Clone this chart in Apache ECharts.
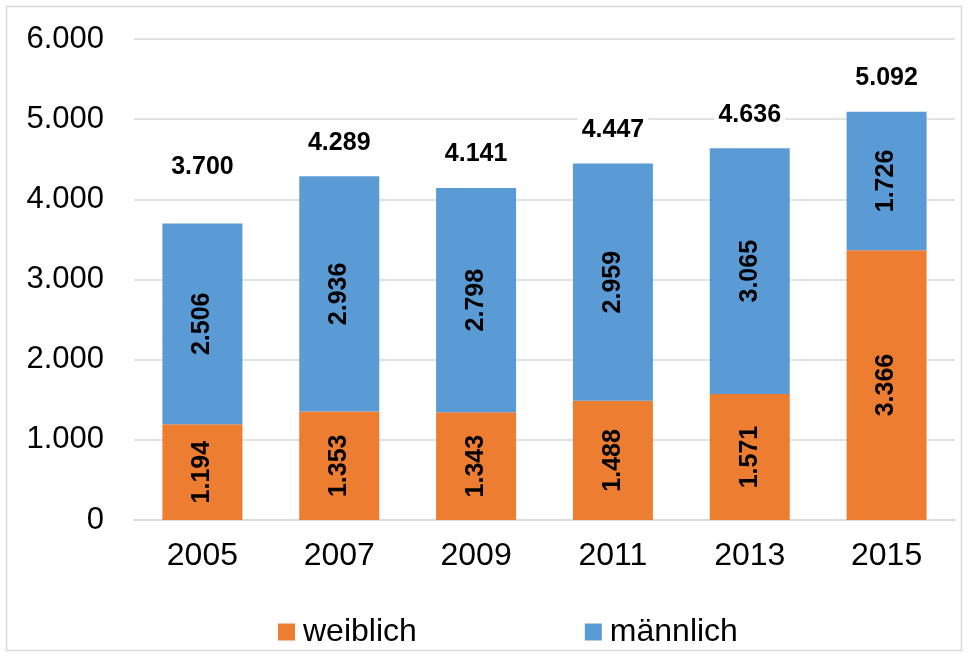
<!DOCTYPE html>
<html lang="de">
<head>
    <meta charset="UTF-8">
    <script src="https://cdn.jsdelivr.net/npm/echarts@6/dist/echarts.min.js"></script>
    <title>weiblich / männlich</title>
    <style>
        html, body { margin: 0; padding: 0; background: #fff; }
    </style>
</head>
<body>
<div id="main" style="width: 968px;height:657px;"></div>

<script>
    var years = ['2005', '2007', '2009', '2011', '2013', '2015'];
    var weiblich = [1194, 1353, 1343, 1488, 1571, 3366];
    var maennlich = [2506, 2936, 2798, 2959, 3065, 1726];
    var yTicks = [0, 1000, 2000, 3000, 4000, 5000, 6000];

    // 1234 -> "1.234"
    function fmt(v) {
        return String(v).replace(/\B(?=(\d{3})+(?!\d))/g, '.');
    }

    var totals = weiblich.map(function (w, i) { return w + maennlich[i]; });

    var font = 'Arial, "Liberation Sans", sans-serif';
    var inside = {
        show: true,
        rotate: 90,
        position: 'inside',
        color: '#000',
        fontFamily: font,
        fontWeight: 'bold',
        fontSize: 25,
        formatter: function (p) { return fmt(p.value); }
    };

    var chartDom = document.getElementById('main');
    var myChart = echarts.init(chartDom);
    var option = {
        animation: false,
        backgroundColor: '#fff',
        graphic: [{
            type: 'rect',
            shape: { x: 6.5, y: 6.5, width: 955, height: 644 },
            style: { fill: 'none', stroke: '#D9D9D9', lineWidth: 1.5 },
            silent: true
        }],
        grid: { left: 134, right: 13, top: 39, bottom: 137 },
        legend: {
            left: 273,
            top: 611,
            itemWidth: 17,
            itemHeight: 17,
            itemGap: 168,
            icon: 'rect',
            textStyle: { color: '#000', fontFamily: font, fontSize: 32, padding: [0, 0, 0, 3] },
            data: ['weiblich', 'männlich']
        },
        xAxis: {
            type: 'category',
            data: years,
            axisLine: { show: true, lineStyle: { color: '#D9D9D9', width: 1.5 } },
            axisTick: { show: false },
            axisLabel: { color: '#000', fontFamily: font, fontSize: 32, margin: 20 }
        },
        yAxis: {
            type: 'value',
            min: yTicks[0],
            max: yTicks[yTicks.length - 1],
            interval: 1000,
            axisLine: { show: false },
            axisTick: { show: false },
            splitLine: { lineStyle: { color: '#D9D9D9', width: 1.5 } },
            axisLabel: {
                color: '#000', fontFamily: font, fontSize: 31, margin: 30,
                formatter: function (v) { return fmt(v); }
            }
        },
        series: [
            {
                name: 'weiblich',
                type: 'bar',
                stack: 'g',
                barWidth: 80,
                itemStyle: { color: '#ED7D31' },
                label: inside,
                data: weiblich
            },
            {
                name: 'männlich',
                type: 'bar',
                stack: 'g',
                barWidth: 80,
                itemStyle: { color: '#5B9BD5' },
                label: inside,
                data: maennlich
            },
            {
                name: 'Summe',
                type: 'bar',
                barWidth: 80,
                barGap: '-100%',
                silent: true,
                itemStyle: { color: 'rgba(0,0,0,0)' },
                label: {
                    show: true,
                    position: 'top',
                    distance: 19,
                    color: '#000',
                    backgroundColor: '#fff',
                    padding: [2, 4],
                    fontFamily: font,
                    fontWeight: 'bold',
                    fontSize: 25,
                    formatter: function (p) { return fmt(p.value); }
                },
                data: totals.map(function (t, i) {
                    // first total label sits higher in the original
                    return i === 0 ? { value: t, label: { distance: 42 } } : t;
                })
            }
        ]
    };
    myChart.setOption(option);
</script>
</body>
</html>
